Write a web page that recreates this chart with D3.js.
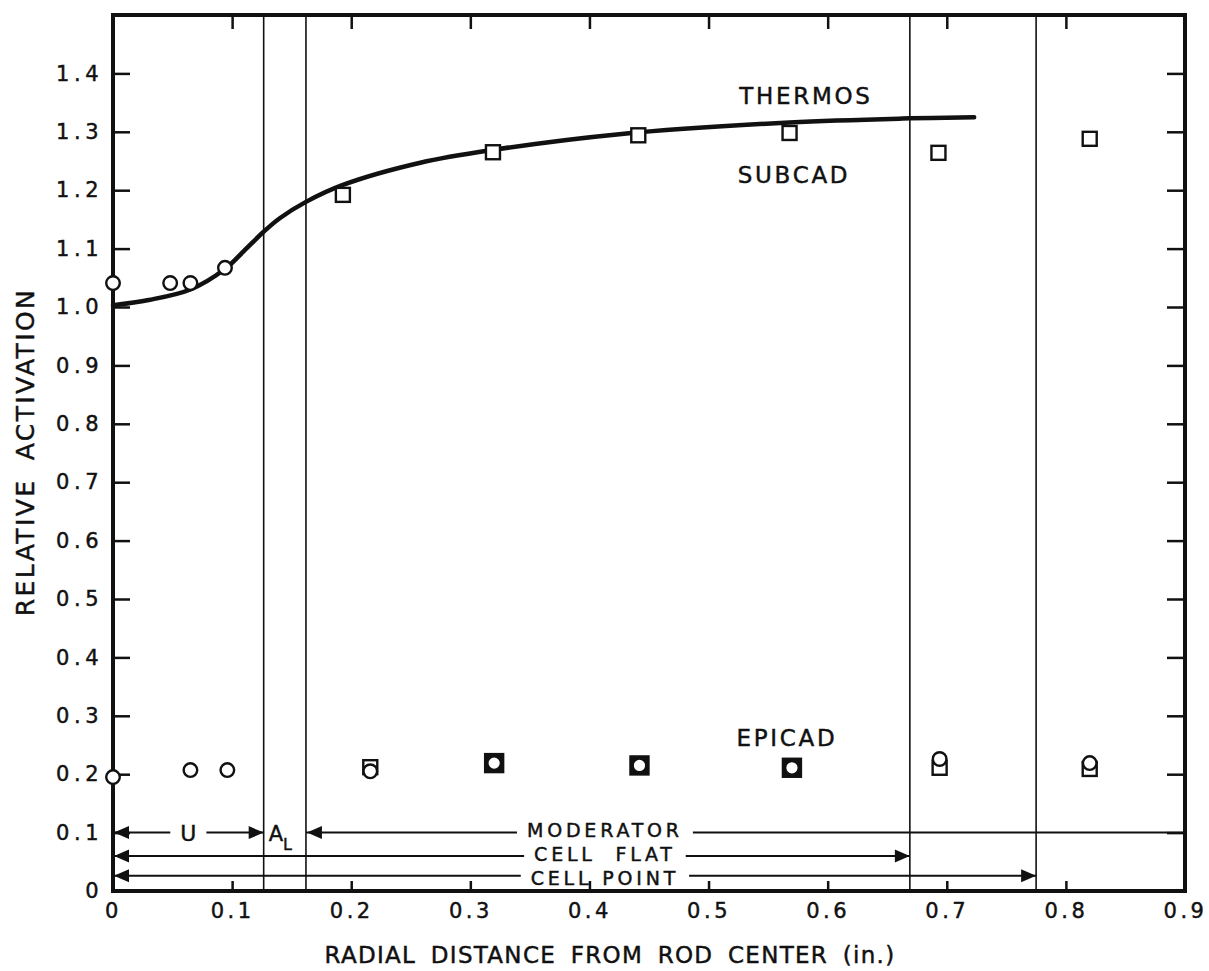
<!DOCTYPE html>
<html>
<head>
<meta charset="utf-8">
<script src="https://cdn.jsdelivr.net/npm/d3@7"></script>
<style>
  body { margin: 0; background: #fff; }
  text { font-family: "DejaVu Sans", sans-serif; fill: #111; stroke: #111; stroke-width: 0.45; }
</style>
</head>
<body>
<script>
// THERMOS calculated curve
const thermosX = [0, 0.03, 0.065, 0.094, 0.11, 0.126, 0.14, 0.162, 0.193, 0.258, 0.319, 0.425, 0.568, 0.669, 0.723];
const thermosY = [1.003, 1.012, 1.030, 1.065, 1.096, 1.128, 1.152, 1.180, 1.209, 1.247, 1.269, 1.296, 1.316, 1.323, 1.325];

// measured points (SUBCAD = cadmium covered subtracted, EPICAD = epicadmium)
const subcadCircleX = [0, 0.048, 0.065, 0.094];
const subcadCircleY = [1.041, 1.041, 1.041, 1.067];
const subcadSquareX = [0.193, 0.319, 0.441, 0.568, 0.693, 0.82];
const subcadSquareY = [1.192, 1.265, 1.294, 1.298, 1.264, 1.288];
const epicadCircleX = [0, 0.065, 0.096, 0.216, 0.32, 0.442, 0.57, 0.694, 0.82];
const epicadCircleY = [0.195, 0.207, 0.207, 0.205, 0.219, 0.215, 0.211, 0.226, 0.219];
const epicadSquareX = [0.216, 0.32, 0.442, 0.57, 0.694, 0.82];
const epicadSquareY = [0.212, 0.219, 0.215, 0.211, 0.211, 0.209];

// region boundaries (in.)
const boundaries = [0.1265, 0.162, 0.669, 0.775];
const xTicks = [0, 0.1, 0.2, 0.3, 0.4, 0.5, 0.6, 0.7, 0.8, 0.9];
const yTicks = [0, 0.1, 0.2, 0.3, 0.4, 0.5, 0.6, 0.7, 0.8, 0.9, 1.0, 1.1, 1.2, 1.3, 1.4];

const spans = [
  { label: "U", from: 0, to: boundaries[0], y: 0.1, left: true, right: true },
  { label: "MODERATOR", from: boundaries[1], to: 0.9, y: 0.1, left: true, right: false },
  { label: "CELL  FLAT", from: 0, to: boundaries[2], y: 0.06, left: true, right: true },
  { label: "CELL POINT", from: 0, to: boundaries[3], y: 0.026, left: true, right: true }
];

const width = 1209, height = 971;
const margin = { top: 15, right: 24, bottom: 80, left: 113 };

const svg = d3.select("body").append("svg")
  .attr("width", width)
  .attr("height", height);

const x = d3.scaleLinear().domain([0, 0.9]).range([margin.left, width - margin.right]);
const y = d3.scaleLinear().domain([0, 1.5]).range([height - margin.bottom, margin.top]);

const fmt = d => d === 0 ? "0" : d3.format(".1f")(d);

// region boundary lines
svg.append("g").selectAll("line")
  .data(boundaries)
  .join("line")
  .attr("x1", d => x(d)).attr("x2", d => x(d))
  .attr("y1", y(1.5)).attr("y2", y(0))
  .attr("stroke", "#111").attr("stroke-width", 1.6);

// axes
const axisB = svg.append("g")
  .attr("transform", `translate(0, ${y(0)})`)
  .call(d3.axisBottom(x).tickValues(xTicks).tickFormat(fmt).tickSizeInner(-10).tickSizeOuter(0).tickPadding(12));
const axisL = svg.append("g")
  .attr("transform", `translate(${x(0)}, 0)`)
  .call(d3.axisLeft(y).tickValues(yTicks).tickFormat(fmt).tickSizeInner(-17).tickSizeOuter(0).tickPadding(10));
const axisT = svg.append("g")
  .attr("transform", `translate(0, ${y(1.5)})`)
  .call(d3.axisTop(x).tickValues(xTicks.slice(1, -1)).tickFormat("").tickSizeInner(-14).tickSizeOuter(0));
const axisR = svg.append("g")
  .attr("transform", `translate(${x(0.9)}, 0)`)
  .call(d3.axisRight(y).tickValues(yTicks.slice(1)).tickFormat("").tickSizeInner(-18).tickSizeOuter(0));

[axisB, axisL, axisT, axisR].forEach(g => {
  g.select(".domain").remove();
  g.selectAll(".tick line").attr("stroke", "#111").attr("stroke-width", 2.5);
  g.attr("font-family", null).attr("font-size", null);
});
axisB.selectAll("text").attr("font-size", 21).attr("letter-spacing", 3.5);
axisL.selectAll("text").attr("font-size", 21).attr("letter-spacing", 4.5);

// frame
svg.append("rect")
  .attr("x", x(0)).attr("y", y(1.5))
  .attr("width", x(0.9) - x(0)).attr("height", y(0) - y(1.5))
  .attr("fill", "none").attr("stroke", "#111").attr("stroke-width", 4);

// axis titles
svg.append("text")
  .attr("x", 610).attr("y", 963)
  .attr("text-anchor", "middle")
  .attr("font-size", 23).attr("letter-spacing", 1.3).attr("word-spacing", 6)
  .text("RADIAL DISTANCE FROM ROD CENTER (in.)");
svg.append("text")
  .attr("transform", "translate(34, 452) rotate(-90)")
  .attr("text-anchor", "middle")
  .attr("font-size", 25).attr("letter-spacing", 2.4).attr("word-spacing", 8)
  .text("RELATIVE ACTIVATION");

// THERMOS curve
const thermos = thermosX.map((d, i) => [d, thermosY[i]]);
svg.append("path")
  .datum(thermos)
  .attr("fill", "none")
  .attr("stroke", "#111")
  .attr("stroke-width", 4.5)
  .attr("stroke-linecap", "round")
  .attr("d", d3.line().x(d => x(d[0])).y(d => y(d[1])).curve(d3.curveCatmullRom.alpha(0.5)));

// region spans with arrows
const labelCenter = 0.413;
// the three stacked labels sit slightly below their lines so they don't collide
const labelDrop = { "U": 8, "MODERATOR": 4, "CELL  FLAT": 5, "CELL POINT": 9 };
const arrowLen = 15, arrowHalf = 6.5;
const spanG = svg.append("g");
spans.forEach(s => {
  const yy = y(s.y);
  const x1 = x(s.from), x2 = x(s.to);
  const isU = s.label === "U";
  const cx = isU ? (x1 + x2) / 2 : x(labelCenter);
  const t = spanG.append("text")
    .attr("x", cx).attr("y", yy + labelDrop[s.label])
    .attr("text-anchor", "middle")
    .attr("font-size", isU ? 22 : 19)
    .attr("letter-spacing", isU ? 0 : 3.8)
    .style("white-space", "pre")
    .text(s.label);
  const w = t.node().getComputedTextLength();
  const pad = 10;
  spanG.append("line")
    .attr("x1", x1).attr("x2", cx - w / 2 - pad)
    .attr("y1", yy).attr("y2", yy)
    .attr("stroke", "#111").attr("stroke-width", 2);
  spanG.append("line")
    .attr("x1", cx + w / 2 + pad).attr("x2", x2)
    .attr("y1", yy).attr("y2", yy)
    .attr("stroke", "#111").attr("stroke-width", 2);
  if (s.left) {
    spanG.append("path")
      .attr("d", `M${x1 + 1},${yy} L${x1 + 1 + arrowLen},${yy - arrowHalf} L${x1 + 1 + arrowLen},${yy + arrowHalf} Z`)
      .attr("fill", "#111");
  }
  if (s.right) {
    spanG.append("path")
      .attr("d", `M${x2},${yy} L${x2 - arrowLen},${yy - arrowHalf} L${x2 - arrowLen},${yy + arrowHalf} Z`)
      .attr("fill", "#111");
  }
});
// A_L label for the cladding
const al = spanG.append("text")
  .attr("x", x(boundaries[0]) + 5).attr("y", y(0.1) + 8)
  .attr("font-size", 21);
al.append("tspan").text("A");
al.append("tspan").attr("font-size", 16).attr("dy", 9).text("L");

// markers
const markers = svg.append("g");
function drawSquares(xs, ys, size, fill) {
  markers.append("g").selectAll("rect")
    .data(xs.map((d, i) => [d, ys[i]]))
    .join("rect")
    .attr("x", d => x(d[0]) - size / 2)
    .attr("y", d => y(d[1]) - size / 2)
    .attr("width", size).attr("height", size)
    .attr("fill", fill)
    .attr("stroke", "#111").attr("stroke-width", 2.4);
}
function drawCircles(xs, ys, r) {
  markers.append("g").selectAll("circle")
    .data(xs.map((d, i) => [d, ys[i]]))
    .join("circle")
    .attr("cx", d => x(d[0]))
    .attr("cy", d => y(d[1]))
    .attr("r", r)
    .attr("fill", "#fff")
    .attr("stroke", "#111").attr("stroke-width", 2.4);
}
// an epicad square hidden under a circle at the same value prints as a solid block
const coincides = d => epicadCircleX.some((cx, i) => Math.abs(cx - d[0]) < 0.003 && Math.abs(epicadCircleY[i] - d[1]) < 0.003);
drawSquares(subcadSquareX, subcadSquareY, 14, "#fff");
drawCircles(subcadCircleX, subcadCircleY, 6.8);
markers.append("g").selectAll("rect")
  .data(epicadSquareX.map((d, i) => [d, epicadSquareY[i]]))
  .join("rect")
  .attr("x", d => x(d[0]) - (coincides(d) ? 9 : 7))
  .attr("y", d => y(d[1]) - (coincides(d) ? 9 : 7))
  .attr("width", d => coincides(d) ? 18 : 14)
  .attr("height", d => coincides(d) ? 18 : 14)
  .attr("fill", d => coincides(d) ? "#111" : "#fff")
  .attr("stroke", "#111").attr("stroke-width", 2.4);
drawCircles(epicadCircleX, epicadCircleY, 6.8);

// curve and series labels
const labels = svg.append("g")
  .attr("font-size", 23)
  .attr("letter-spacing", 2.7)
  .attr("text-anchor", "middle");
labels.append("text").attr("x", 806).attr("y", 104).text("THERMOS");
labels.append("text").attr("x", 794).attr("y", 183).text("SUBCAD");
labels.append("text").attr("x", 787).attr("y", 746).text("EPICAD");
</script>
</body>
</html>
